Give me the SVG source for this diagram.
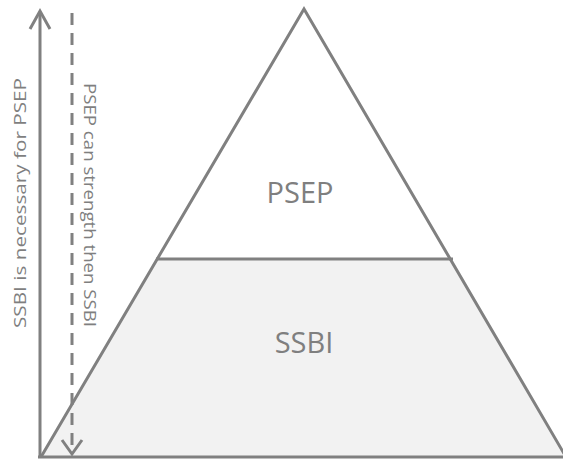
<svg xmlns="http://www.w3.org/2000/svg" width="563" height="459" viewBox="0 0 563 459">
  <style>
    .edge { fill: none; stroke: #808080; stroke-width: 3; }
    .label { fill: #7f7f7f; font-family: "Open Sans", "Liberation Sans", sans-serif; }
    .big { font-size: 29px; text-anchor: middle; }
    .side { font-size: 17px; }
  </style>
  <rect width="563" height="459" fill="#ffffff"/>

  <!-- lower tier: SSBI -->
  <g id="ssbi">
    <polygon points="157,259 452,259 566,457 41,457" fill="#f2f2f2" stroke="none"/>
    <text class="label big" x="304" y="353">SSBI</text>
  </g>

  <!-- upper tier: PSEP -->
  <g id="psep">
    <polygon points="304,9 157,259 452,259" fill="#ffffff" stroke="none"/>
    <text class="label big" x="300" y="203">PSEP</text>
  </g>

  <!-- pyramid outline and divider -->
  <g id="connectors">
    <polyline class="edge" points="41,457 304,9 566,457"/>
    <line class="edge" x1="156" y1="259" x2="453" y2="259" stroke-width="5"/>
    <line class="edge" x1="38" y1="457" x2="563" y2="457"/>

    <!-- solid arrow: SSBI is necessary for PSEP -->
    <line class="edge" x1="40" y1="458" x2="40" y2="12"/>
    <polyline class="edge" points="30,29 40,11 50,29"/>

    <!-- dashed arrow: PSEP can strengthen SSBI -->
    <line class="edge" x1="72" y1="13" x2="72" y2="453" stroke-dasharray="12 8"/>
    <polyline class="edge" points="62,440 72,454 82,440"/>
  </g>

  <g id="axis-labels">
    <text class="label side" transform="translate(26,328) rotate(-90)" textLength="250" lengthAdjust="spacingAndGlyphs">SSBI is necessary for PSEP</text>
    <text class="label side" transform="translate(84,83) rotate(90)" textLength="244" lengthAdjust="spacingAndGlyphs">PSEP can strength then SSBI</text>
  </g>
</svg>
